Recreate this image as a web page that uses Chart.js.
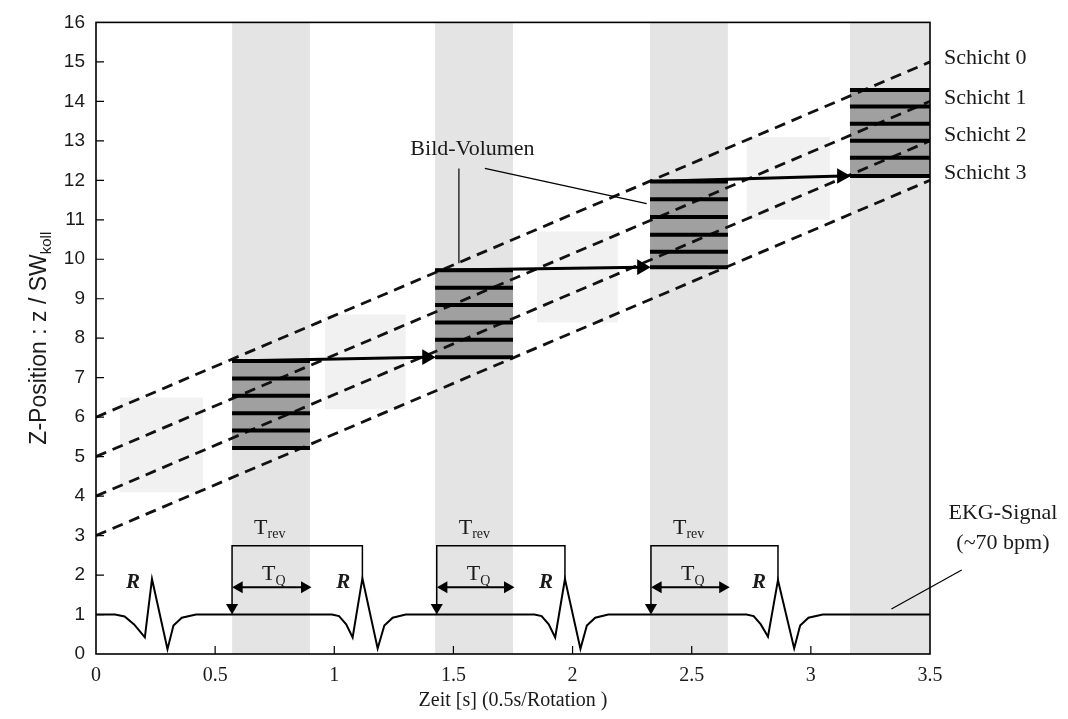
<!DOCTYPE html>
<html>
<head>
<meta charset="utf-8">
<script src="https://cdn.jsdelivr.net/npm/chart.js@4"></script>
<style>
  body { margin: 0; background: #fff; }
  #chart { display: block; }
</style>
</head>
<body>
<canvas id="chart" width="1068" height="719"></canvas>
<script>
// gated acquisition windows (s)
const bandStart = [0.571, 1.423, 2.325, 3.164];
const bandEnd = [0.898, 1.750, 2.652, 3.5];

// image volume slices per window (z / SW_koll)
const boxLevels = [
    [5.22, 5.66, 6.10, 6.54, 6.98, 7.42],
    [7.52, 7.96, 8.40, 8.84, 9.28, 9.72],
    [9.80, 10.19, 10.62, 11.07, 11.52, 11.97],
    [12.11, 12.57, 13.00, 13.43, 13.87, 14.29]
];

// faint, unused data between windows
const faintX = [[0.10, 0.45], [0.96, 1.30], [1.85, 2.19], [2.73, 3.08]];
const faintY = [[4.1, 6.5], [6.2, 8.6], [8.4, 10.7], [11.0, 13.1]];

// detector rows
const layerNames = ["Schicht 0", "Schicht 1", "Schicht 2", "Schicht 3"];
const layerStartZ = [6, 5, 4, 3];
const layerEndZ = [15, 14, 13, 12];
const layerLabelZ = [15.1, 14.08, 13.14, 12.18];

// EKG trace
const ekgX = [0, 0.08, 0.12, 0.16, 0.205, 0.235, 0.30, 0.325, 0.36, 0.42,
    0.99, 1.02, 1.05, 1.077, 1.118, 1.182, 1.21, 1.245, 1.30,
    1.84, 1.87, 1.90, 1.927, 1.968, 2.033, 2.06, 2.095, 2.15,
    2.73, 2.76, 2.79, 2.82, 2.862, 2.93, 2.955, 2.99, 3.05, 3.5];
const ekgY = [1, 1, 0.95, 0.75, 0.42, 1.9, 0.12, 0.72, 0.92, 1,
    1, 0.96, 0.75, 0.42, 1.92, 0.14, 0.72, 0.92, 1,
    1, 0.96, 0.75, 0.42, 1.9, 0.13, 0.72, 0.92, 1,
    1, 0.96, 0.75, 0.44, 1.87, 0.14, 0.72, 0.92, 1, 1];
const rPeaks = [0.235, 1.118, 1.968, 2.862];
const rPeakZ = [1.9, 1.92, 1.9, 1.87];
const trevStart = [0.571, 1.43, 2.329];
const trevTop = 2.74;
const tqEnd = [0.905, 1.757, 2.66];
const tqZ = 1.69;

const datasets = [];
const pt = (x, y) => ({ x, y });

bandStart.forEach((s, i) => {
    datasets.push({
        data: [pt(s, 16), pt(bandEnd[i], 16)],
        fill: "start", backgroundColor: "#e4e4e4", borderWidth: 0, pointRadius: 0, order: 20
    });
});

faintX.forEach((fx, i) => {
    datasets.push({
        data: [pt(fx[0], faintY[i][1]), pt(fx[1], faintY[i][1])],
        fill: { value: faintY[i][0] }, backgroundColor: "#f1f1f1", borderWidth: 0, pointRadius: 0, order: 19
    });
});

boxLevels.forEach((lv, i) => {
    datasets.push({
        data: [pt(bandStart[i], lv[5]), pt(bandEnd[i], lv[5])],
        fill: { value: lv[0] }, backgroundColor: "#a0a0a0", borderWidth: 0, pointRadius: 0, order: 18
    });
});

layerStartZ.forEach((z, i) => {
    datasets.push({
        data: [pt(0, z), pt(3.5, layerEndZ[i])],
        borderColor: "#111", borderWidth: 2.8, borderDash: [11, 7], pointRadius: 0, order: 10
    });
});

boxLevels.forEach((lv, i) => {
    lv.forEach(z => {
        datasets.push({
            data: [pt(bandStart[i], z), pt(bandEnd[i], z)],
            borderColor: "#000", borderWidth: 4, pointRadius: 0, order: 8
        });
    });
    if (i < boxLevels.length - 1) {
        datasets.push({
            data: [pt(bandStart[i], lv[5]), pt(bandStart[i + 1] - 0.035, boxLevels[i + 1][0])],
            borderColor: "#000", borderWidth: 3,
            pointRadius: [0, 9], pointStyle: "triangle", pointRotation: 90,
            pointBackgroundColor: "#000", pointBorderWidth: 0, order: 7
        });
    }
});

datasets.push({
    data: ekgX.map((x, i) => pt(x, ekgY[i])),
    borderColor: "#000", borderWidth: 2, pointRadius: 0, order: 5
});

trevStart.forEach((s, i) => {
    datasets.push({
        data: [pt(s, 1.18), pt(s, trevTop), pt(rPeaks[i + 1], trevTop), pt(rPeaks[i + 1], rPeakZ[i + 1])],
        borderColor: "#000", borderWidth: 1.5,
        pointRadius: [7, 0, 0, 0], pointStyle: "triangle", pointRotation: 180,
        pointBackgroundColor: "#000", pointBorderWidth: 0, order: 4
    });
    datasets.push({
        data: [pt(s + 0.03, tqZ), pt(tqEnd[i] - 0.03, tqZ)],
        borderColor: "#000", borderWidth: 2,
        pointRadius: 7, pointStyle: "triangle", pointRotation: [270, 90],
        pointBackgroundColor: "#000", pointBorderWidth: 0, order: 4
    });
});

// leader lines
datasets.push({ data: [pt(1.523, 12.3), pt(1.523, 9.9)], borderColor: "#000", borderWidth: 1.2, pointRadius: 0, order: 3 });
datasets.push({ data: [pt(1.632, 12.3), pt(2.311, 11.41)], borderColor: "#000", borderWidth: 1.2, pointRadius: 0, order: 3 });
datasets.push({ data: [pt(3.338, 1.14), pt(3.633, 2.13)], borderColor: "#000", borderWidth: 1.2, pointRadius: 0, order: 3, clip: false });

datasets.forEach(d => { d.showLine = true; d.tension = 0; });

function subText(ctx, main, sub, x, y, size, align) {
    ctx.font = size + "px 'Liberation Serif'";
    const w1 = ctx.measureText(main).width;
    ctx.font = Math.round(size * 0.62) + "px 'Liberation Serif'";
    const w2 = ctx.measureText(sub).width;
    let left = align === "center" ? x - (w1 + w2) / 2 : x;
    ctx.textAlign = "left";
    ctx.font = size + "px 'Liberation Serif'";
    ctx.fillText(main, left, y);
    ctx.font = Math.round(size * 0.62) + "px 'Liberation Serif'";
    ctx.fillText(sub, left + w1, y + size * 0.22);
}

const annotations = {
    id: "annotations",
    afterDatasetsDraw(chart) {
        const ctx = chart.ctx;
        const xs = chart.scales.x, ys = chart.scales.y;
        const X = v => xs.getPixelForValue(v), Y = v => ys.getPixelForValue(v);
        const area = chart.chartArea;
        ctx.save();
        ctx.fillStyle = "#1a1a1a";
        ctx.textBaseline = "middle";

        ctx.font = "22px 'Liberation Serif'";
        ctx.textAlign = "left";
        layerNames.forEach((n, i) => ctx.fillText(n, area.right + 14, Y(layerLabelZ[i])));

        ctx.textAlign = "center";
        ctx.fillText("Bild-Volumen", X(1.58), Y(12.8));
        ctx.fillText("EKG-Signal", X(3.806), Y(3.57));
        ctx.fillText("(~70 bpm)", X(3.806), Y(2.81));

        ctx.textBaseline = "alphabetic";
        trevStart.forEach((s, i) => {
            subText(ctx, "T", "rev", X(s) + 22, Y(3.05), 22, "left");
            subText(ctx, "T", "Q", X(s) + 30, Y(1.88), 22, "left");
        });

        ctx.textBaseline = "middle";
        ctx.textAlign = "center";
        ctx.font = "italic bold 21px 'Liberation Serif'";
        rPeaks.forEach(r => ctx.fillText("R", X(r - 0.08), Y(1.8)));

        // frame and inward ticks
        ctx.strokeStyle = "#000";
        ctx.lineWidth = 1.6;
        ctx.strokeRect(area.left, area.top, area.right - area.left, area.bottom - area.top);
        ctx.lineWidth = 1.2;
        ctx.beginPath();
        xs.ticks.forEach(t => {
            if (t.value > 0 && t.value < 3.5) {
                ctx.moveTo(X(t.value), area.bottom);
                ctx.lineTo(X(t.value), area.bottom - 8);
            }
        });
        ys.ticks.forEach(t => {
            if (t.value > 0 && t.value < 16) {
                ctx.moveTo(area.left, Y(t.value));
                ctx.lineTo(area.left + 8, Y(t.value));
            }
        });
        ctx.stroke();

        // y axis title with subscript
        ctx.translate(40, (area.top + area.bottom) / 2);
        ctx.rotate(-Math.PI / 2);
        ctx.fillStyle = "#1a1a1a";
        ctx.textBaseline = "middle";
        ctx.font = "23px 'Liberation Sans'";
        const main = "Z-Position : z / SW";
        const w1 = ctx.measureText(main).width;
        ctx.font = "15px 'Liberation Sans'";
        const w2 = ctx.measureText("koll").width;
        ctx.textAlign = "left";
        ctx.font = "23px 'Liberation Sans'";
        ctx.fillText(main, -(w1 + w2) / 2, 0);
        ctx.font = "15px 'Liberation Sans'";
        ctx.fillText("koll", -(w1 + w2) / 2 + w1, 7);
        ctx.restore();
    }
};

new Chart(document.getElementById("chart"), {
    type: "scatter",
    data: { datasets },
    options: {
        responsive: false,
        animation: false,
        layout: { padding: { top: 22, right: 138, left: 0, bottom: 0 } },
        plugins: { legend: { display: false }, tooltip: { enabled: false } },
        scales: {
            x: {
                type: "linear", min: 0, max: 3.5,
                grid: { display: false, drawTicks: false },
                border: { display: false },
                ticks: {
                    stepSize: 0.5, padding: 10, color: "#1a1a1a",
                    font: { family: "Liberation Serif", size: 20 },
                    callback: v => String(v)
                },
                title: {
                    display: true, text: "Zeit [s] (0.5s/Rotation )", color: "#1a1a1a",
                    font: { family: "Liberation Serif", size: 20 },
                    padding: { top: 0, bottom: 6 }
                },
                afterFit: s => { s.height = 65; }
            },
            y: {
                type: "linear", min: 0, max: 16,
                grid: { display: false, drawTicks: false },
                border: { display: false },
                ticks: {
                    stepSize: 1, padding: 11, color: "#1a1a1a",
                    font: { family: "Liberation Sans", size: 19 }
                },
                afterFit: s => { s.width = 96; }
            }
        }
    },
    plugins: [annotations]
});
</script>
</body>
</html>
